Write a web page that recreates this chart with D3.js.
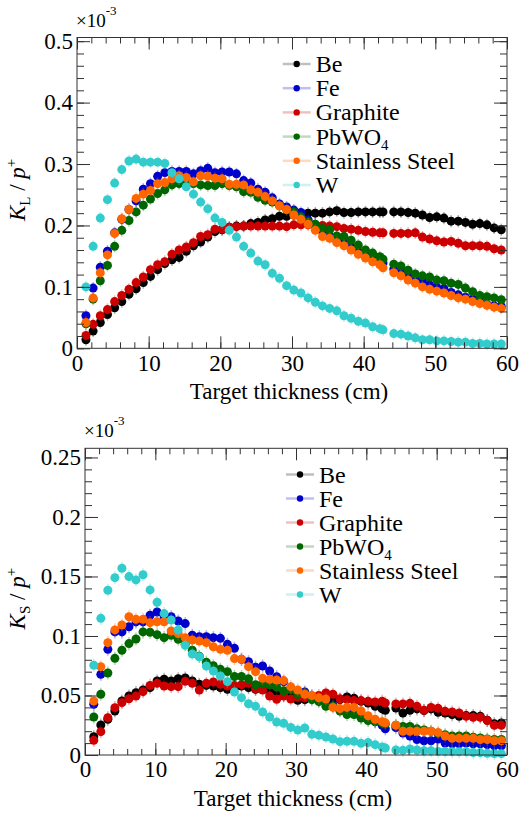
<!DOCTYPE html>
<html>
<head>
<meta charset="utf-8">
<script src="https://cdn.jsdelivr.net/npm/d3@7"></script>
<style>
  html, body { margin: 0; padding: 0; background: #fff; }
  svg { display: block; }
</style>
</head>
<body>
<svg id="chart" width="519" height="814"></svg>
<script>
// target thickness (cm) of each point, same for both panels
const thickness = [1.25, 2.25, 3.25, 4.25, 5.25, 6.25, 7.25, 8.25, 9.25, 10.25,
  11.25, 12.25, 13.25, 14.25, 15.25, 16.25, 17.25, 18.25, 19.25, 20.25,
  21.25, 22.25, 23.25, 24.25, 25.25, 26.25, 27.25, 28.25, 29.25, 30.25,
  31.25, 32.25, 33.25, 34.25, 35.25, 36.25, 37.25, 38.25, 39.25, 40.25,
  41.25, 42.25, 42.7, 44.2, 45.2, 46.2, 47.2, 48.2, 49.2, 50.2,
  51.2, 52.2, 53.2, 54.2, 55.2, 56.2, 57.2, 58.2, 59.2];

const materials = ["Be", "Fe", "Graphite", "PbWO4", "Stainless Steel", "W"];

// K_L / p+  (x 10^-3)
const kLongBe = [0.014, 0.028, 0.042, 0.055, 0.066, 0.076, 0.088, 0.097, 0.107, 0.117,
  0.128, 0.138, 0.144, 0.148, 0.158, 0.167, 0.173, 0.181, 0.190, 0.193,
  0.197, 0.199, 0.199, 0.203, 0.205, 0.209, 0.211, 0.215, 0.215, 0.217,
  0.219, 0.220, 0.220, 0.220, 0.222, 0.224, 0.221, 0.221, 0.222, 0.222,
  0.222, 0.222, 0.222, 0.222, 0.222, 0.221, 0.220, 0.217, 0.213, 0.214,
  0.212, 0.207, 0.207, 0.205, 0.202, 0.203, 0.201, 0.196, 0.193];
const kLongFe = [0.053, 0.098, 0.132, 0.158, 0.188, 0.210, 0.226, 0.240, 0.259, 0.268,
  0.280, 0.286, 0.288, 0.288, 0.288, 0.284, 0.289, 0.293, 0.286, 0.287,
  0.287, 0.284, 0.273, 0.269, 0.259, 0.254, 0.245, 0.235, 0.230, 0.225,
  0.221, 0.209, 0.199, 0.190, 0.182, 0.175, 0.171, 0.164, 0.157, 0.153,
  0.147, 0.143, 0.139, 0.129, 0.126, 0.121, 0.116, 0.110, 0.103, 0.099,
  0.097, 0.091, 0.087, 0.083, 0.080, 0.076, 0.072, 0.069, 0.068];
const kLongGraphite = [0.021, 0.039, 0.053, 0.063, 0.076, 0.086, 0.096, 0.107, 0.116, 0.128,
  0.136, 0.141, 0.153, 0.160, 0.165, 0.172, 0.182, 0.185, 0.194, 0.194,
  0.197, 0.198, 0.199, 0.199, 0.199, 0.199, 0.199, 0.199, 0.198, 0.201,
  0.201, 0.201, 0.201, 0.200, 0.199, 0.198, 0.195, 0.194, 0.192, 0.190,
  0.189, 0.188, 0.188, 0.187, 0.187, 0.187, 0.188, 0.181, 0.178, 0.175,
  0.173, 0.174, 0.171, 0.167, 0.167, 0.167, 0.166, 0.162, 0.160];
const kLongPbWO4 = [0.040, 0.080, 0.110, 0.135, 0.166, 0.192, 0.208, 0.222, 0.233, 0.243,
  0.252, 0.258, 0.266, 0.268, 0.269, 0.268, 0.266, 0.265, 0.265, 0.268,
  0.265, 0.263, 0.255, 0.254, 0.246, 0.241, 0.238, 0.232, 0.226, 0.222,
  0.214, 0.206, 0.202, 0.195, 0.193, 0.183, 0.182, 0.176, 0.168, 0.160,
  0.155, 0.149, 0.145, 0.137, 0.134, 0.127, 0.121, 0.118, 0.116, 0.111,
  0.110, 0.106, 0.104, 0.098, 0.092, 0.086, 0.084, 0.082, 0.079];
const kLongSteel = [0.042, 0.082, 0.123, 0.152, 0.187, 0.211, 0.226, 0.244, 0.251, 0.257,
  0.268, 0.270, 0.276, 0.281, 0.278, 0.271, 0.281, 0.280, 0.277, 0.276,
  0.267, 0.267, 0.266, 0.258, 0.254, 0.247, 0.240, 0.232, 0.226, 0.217,
  0.210, 0.202, 0.192, 0.182, 0.179, 0.172, 0.167, 0.160, 0.153, 0.147,
  0.141, 0.136, 0.131, 0.123, 0.118, 0.111, 0.106, 0.100, 0.096, 0.093,
  0.090, 0.086, 0.082, 0.080, 0.076, 0.073, 0.070, 0.067, 0.065];
const kLongW = [0.100, 0.166, 0.212, 0.242, 0.269, 0.291, 0.305, 0.308, 0.303, 0.303,
  0.303, 0.301, 0.286, 0.276, 0.263, 0.251, 0.238, 0.227, 0.212, 0.205,
  0.192, 0.181, 0.166, 0.155, 0.142, 0.136, 0.122, 0.114, 0.102, 0.095,
  0.090, 0.082, 0.075, 0.069, 0.065, 0.061, 0.053, 0.049, 0.044, 0.041,
  0.035, 0.032, 0.030, 0.024, 0.023, 0.020, 0.017, 0.014, 0.014, 0.012,
  0.012, 0.011, 0.010, 0.010, 0.008, 0.008, 0.007, 0.007, 0.007];

// K_S / p+  (x 10^-3)
const kShortBe = [0.0154, 0.0252, 0.030, 0.037, 0.0454, 0.0496, 0.0524, 0.0546, 0.0566, 0.0622,
  0.0636, 0.0622, 0.0641, 0.0647, 0.0622, 0.0594, 0.0585, 0.058, 0.0566, 0.0552,
  0.0566, 0.058, 0.0566, 0.0552, 0.0566, 0.0532, 0.053, 0.050, 0.0487, 0.046,
  0.0465, 0.048, 0.0465, 0.048, 0.047, 0.0465, 0.0487, 0.0476, 0.0451, 0.0437,
  0.0409, 0.0387, 0.0375, 0.0395, 0.0353, 0.0375, 0.0387, 0.0373, 0.0387, 0.0359,
  0.0353, 0.0339, 0.0325, 0.0331, 0.0331, 0.0325, 0.0291, 0.0263, 0.0269];
const kShortFe = [0.0426, 0.0678, 0.0888, 0.1034, 0.1034, 0.1078, 0.1118, 0.1118, 0.1174, 0.1202,
  0.1162, 0.1162, 0.1126, 0.1104, 0.1006, 0.0994, 0.0994, 0.0986, 0.098, 0.093,
  0.0896, 0.0804, 0.0784, 0.0737, 0.0748, 0.0706, 0.0658, 0.0616, 0.056, 0.050,
  0.053, 0.0496, 0.046, 0.045, 0.042, 0.038, 0.037, 0.037, 0.032, 0.030,
  0.028, 0.025, 0.022, 0.023, 0.0185, 0.016, 0.013, 0.012, 0.012, 0.0134,
  0.010, 0.0095, 0.0095, 0.010, 0.0095, 0.0095, 0.0087, 0.0078, 0.0078];
const kShortGraphite = [0.0123, 0.0196, 0.0314, 0.0398, 0.044, 0.0473, 0.0496, 0.0532, 0.0585, 0.0602,
  0.058, 0.0574, 0.0574, 0.0619, 0.0602, 0.0546, 0.0602, 0.0613, 0.0594, 0.058,
  0.0585, 0.0591, 0.0602, 0.0557, 0.0546, 0.0496, 0.0468, 0.0496, 0.047, 0.0485,
  0.048, 0.049, 0.050, 0.0521, 0.051, 0.0473, 0.0465, 0.0457, 0.0457, 0.0451,
  0.0445, 0.0451, 0.0437, 0.0429, 0.0429, 0.0434, 0.0409, 0.0375, 0.040, 0.0392,
  0.0367, 0.0361, 0.0353, 0.0325, 0.0317, 0.0317, 0.0289, 0.0249, 0.0249];
const kShortPbWO4 = [0.0319, 0.051, 0.0689, 0.0812, 0.088, 0.0936, 0.0975, 0.1034, 0.1031, 0.1011,
  0.0986, 0.1006, 0.0972, 0.093, 0.088, 0.083, 0.078, 0.075, 0.072, 0.070,
  0.066, 0.066, 0.064, 0.059, 0.060, 0.059, 0.057, 0.054, 0.055, 0.051,
  0.052, 0.0465, 0.045, 0.041, 0.041, 0.037, 0.034, 0.034, 0.031, 0.029,
  0.028, 0.027, 0.026, 0.025, 0.024, 0.024, 0.022, 0.021, 0.020, 0.018,
  0.017, 0.016, 0.016, 0.016, 0.015, 0.0143, 0.0134, 0.013, 0.013];
const kShortSteel = [0.0454, 0.0742, 0.0944, 0.1051, 0.1092, 0.1162, 0.114, 0.114, 0.1112, 0.112,
  0.112, 0.1042, 0.102, 0.0986, 0.0966, 0.0958, 0.0944, 0.091, 0.0888, 0.088,
  0.081, 0.0804, 0.0742, 0.070, 0.0644, 0.0636, 0.063, 0.0625, 0.0574, 0.0546,
  0.051, 0.050, 0.048, 0.047, 0.040, 0.039, 0.040, 0.040, 0.037, 0.033,
  0.030, 0.028, 0.027, 0.025, 0.020, 0.020, 0.020, 0.020, 0.020, 0.019,
  0.016, 0.014, 0.014, 0.014, 0.014, 0.013, 0.013, 0.012, 0.012];
const kShortW = [0.0754, 0.1148, 0.1384, 0.149, 0.1569, 0.1499, 0.1471, 0.1515, 0.1387, 0.1283,
  0.1188, 0.1134, 0.105, 0.0922, 0.0849, 0.0826, 0.0748, 0.0706, 0.0664, 0.0616,
  0.0529, 0.0482, 0.0431, 0.0409, 0.0361, 0.0319, 0.0277, 0.0266, 0.0232, 0.021,
  0.0227, 0.0174, 0.0165, 0.0151, 0.0134, 0.0112, 0.0115, 0.0115, 0.0098, 0.0104,
  0.0087, 0.0067, 0.0059, 0.0042, 0.0039, 0.005, 0.0042, 0.0036, 0.0036, 0.003,
  0.003, 0.0028, 0.0028, 0.0028, 0.002, 0.002, 0.0014, 0.0011, 0.0011];

const colors = ["#000000", "#0000cc", "#cc0000", "#006600", "#ff6600", "#33cccc"];

const FONT = "Liberation Serif";
const svg = d3.select("#chart").attr("font-family", FONT);
const axisColor = "#333";

function drawPanel(cfg) {
  const x = d3.scaleLinear().domain([0, 60]).range([cfg.left, cfg.right]);
  const y = d3.scaleLinear().domain([0, cfg.yMax]).range([cfg.bottom, cfg.top]);
  const g = svg.append("g");

  // series: error bars then markers, W drawn last
  cfg.series.forEach((vals, s) => {
    const pts = vals.map((v, i) => ({ x: thickness[i], y: v }));
    const sg = g.append("g");
    sg.selectAll("line")
      .data(pts)
      .join("line")
      .attr("x1", d => x(d.x)).attr("x2", d => x(d.x))
      .attr("y1", d => y(d.y - cfg.err)).attr("y2", d => y(d.y + cfg.err))
      .attr("stroke", colors[s]).attr("stroke-opacity", 0.3).attr("stroke-width", 1.5);
    sg.selectAll("circle")
      .data(pts)
      .join("circle")
      .attr("cx", d => x(d.x))
      .attr("cy", d => y(d.y))
      .attr("r", 4.5)
      .attr("fill", colors[s]);
  });

  // frame
  g.append("rect")
    .attr("x", cfg.left).attr("y", cfg.top)
    .attr("width", cfg.right - cfg.left).attr("height", cfg.bottom - cfg.top)
    .attr("fill", "none").attr("stroke", axisColor).attr("stroke-width", 1);

  const xMajor = [0, 10, 20, 30, 40, 50, 60];
  const xMinor = d3.range(0, 60.01, 2);
  const yMajor = cfg.yMajor;
  const yMinor = d3.range(0, cfg.yMax, cfg.yMinorStep);

  const styleAxis = sel => {
    sel.attr("font-family", FONT).attr("font-size", 23);
    sel.select(".domain").remove();
    sel.selectAll("line").attr("stroke", axisColor);
    sel.selectAll("text").attr("fill", "#000");
  };

  // bottom axis with labels
  g.append("g").attr("transform", `translate(0,${cfg.bottom})`)
    .call(d3.axisBottom(x).tickValues(xMajor).tickSize(-12).tickPadding(6).tickFormat(d3.format("d")))
    .call(styleAxis);
  g.append("g").attr("transform", `translate(0,${cfg.bottom})`)
    .call(d3.axisBottom(x).tickValues(xMinor).tickSize(-6).tickFormat(""))
    .call(styleAxis);
  // top axis ticks
  g.append("g").attr("transform", `translate(0,${cfg.top})`)
    .call(d3.axisTop(x).tickValues(xMajor).tickSize(-12).tickFormat(""))
    .call(styleAxis);
  g.append("g").attr("transform", `translate(0,${cfg.top})`)
    .call(d3.axisTop(x).tickValues(xMinor).tickSize(-6).tickFormat(""))
    .call(styleAxis);
  // left axis with labels
  g.append("g").attr("transform", `translate(${cfg.left},0)`)
    .call(d3.axisLeft(y).tickValues(yMajor).tickSize(-13).tickPadding(4).tickFormat(d3.format("~g")))
    .call(styleAxis);
  g.append("g").attr("transform", `translate(${cfg.left},0)`)
    .call(d3.axisLeft(y).tickValues(yMinor).tickSize(-7).tickFormat(""))
    .call(styleAxis);
  // right axis ticks
  g.append("g").attr("transform", `translate(${cfg.right},0)`)
    .call(d3.axisRight(y).tickValues(yMajor).tickSize(-13).tickFormat(""))
    .call(styleAxis);
  g.append("g").attr("transform", `translate(${cfg.right},0)`)
    .call(d3.axisRight(y).tickValues(yMinor).tickSize(-7).tickFormat(""))
    .call(styleAxis);

  // exponent
  const ex = g.append("text")
    .attr("x", cfg.left - 1).attr("y", cfg.top - 11)
    .attr("font-size", 19);
  ex.append("tspan").text("\u00d710");
  ex.append("tspan").attr("dy", -12).attr("font-size", 13).text("-3");

  // x title
  g.append("text")
    .attr("x", cfg.xTitleX).attr("y", cfg.bottom + 51)
    .attr("text-anchor", "middle")
    .attr("font-size", 23)
    .text("Target thickness (cm)");

  // y title
  const yt = g.append("text")
    .attr("transform", `translate(25,${(cfg.top + cfg.bottom) / 2 - 3}) rotate(-90)`)
    .attr("text-anchor", "middle")
    .attr("font-size", 23);
  yt.append("tspan").attr("font-style", "italic").text("K");
  yt.append("tspan").attr("dy", 5).attr("font-size", 15).text(cfg.sub);
  yt.append("tspan").attr("dy", -5).text(" / ");
  yt.append("tspan").attr("font-style", "italic").text("p");
  yt.append("tspan").attr("dy", -9).attr("font-size", 15).text("+");

  // legend
  const leg = g.append("g");
  materials.forEach((m, i) => {
    const ly = cfg.legTop + i * cfg.legStep;
    leg.append("line")
      .attr("x1", cfg.legX - 14).attr("x2", cfg.legX + 14)
      .attr("y1", ly).attr("y2", ly)
      .attr("stroke", colors[i]).attr("stroke-opacity", 0.25).attr("stroke-width", 2.5);
    leg.append("circle")
      .attr("cx", cfg.legX).attr("cy", ly).attr("r", 3.2).attr("fill", colors[i]);
    const t = leg.append("text")
      .attr("x", cfg.legX + 19).attr("y", ly + 8)
      .attr("font-size", 24);
    if (m === "PbWO4") {
      t.append("tspan").text("PbWO");
      t.append("tspan").attr("dy", 5).attr("font-size", 15).text("4");
    } else {
      t.text(m);
    }
  });
}

drawPanel({
  left: 77, right: 507, top: 37.5, bottom: 348.3,
  yMax: 0.506, yMajor: [0, 0.1, 0.2, 0.3, 0.4, 0.5], yMinorStep: 0.02,
  err: 0.010, sub: "L", xTitleX: 289,
  legX: 296.7, legTop: 64, legStep: 24.2,
  series: [kLongBe, kLongFe, kLongGraphite, kLongPbWO4, kLongSteel, kLongW]
});

drawPanel({
  left: 85, right: 507, top: 448.3, bottom: 755,
  yMax: 0.2577, yMajor: [0, 0.05, 0.1, 0.15, 0.2, 0.25], yMinorStep: 0.01,
  err: 0.0055, sub: "S", xTitleX: 293,
  legX: 300, legTop: 474.5, legStep: 24,
  series: [kShortBe, kShortFe, kShortGraphite, kShortPbWO4, kShortSteel, kShortW]
});
</script>
</body>
</html>
